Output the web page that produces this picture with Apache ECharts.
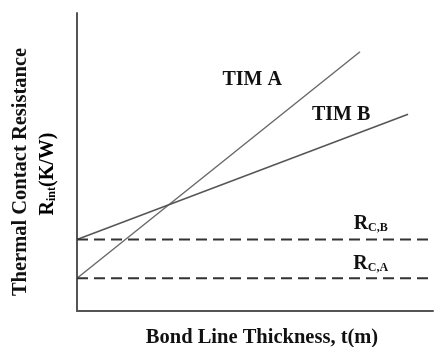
<!DOCTYPE html>
<html><head><meta charset="utf-8">
<script src="https://cdn.jsdelivr.net/npm/echarts@6/dist/echarts.min.js"></script>
<style>html,body{margin:0;padding:0;background:#fff}#c{width:434px;height:347px}</style>
</head><body><div id="c"></div>
<script>
// Data (arbitrary units, 0-100 scale on both axes)
const timA = [[0, 11], [79.5, 87]];
const timB = [[0, 24], [93, 66]];
const rcA = [[0, 11], [100, 11]];
const rcB = [[0, 24], [100, 24]];
const xTitle = 'Bond Line Thickness, t(m)';
const yTitle1 = 'Thermal Contact Resistance';

const font = '"Liberation Serif","Times New Roman",serif';
const chart = echarts.init(document.getElementById('c'), null, {renderer: 'canvas'});
const rich = {
  b: {fontFamily: font, fontWeight: 'bold', fontSize: 20, color: '#111', lineHeight: 24, verticalAlign: 'bottom'},
  s: {fontFamily: font, fontWeight: 'bold', fontSize: 12, color: '#111', lineHeight: 13, verticalAlign: 'bottom'}
};
chart.setOption({
  animation: false,
  grid: {left: 77, right: 1, top: 13, bottom: 36},
  xAxis: {type: 'value', min: 0, max: 100, axisLine: {show: true, lineStyle: {color: '#555', width: 2}},
    axisTick: {show: false}, axisLabel: {show: false}, splitLine: {show: false}},
  yAxis: {type: 'value', min: 0, max: 100, axisLine: {show: true, lineStyle: {color: '#555', width: 2}},
    axisTick: {show: false}, axisLabel: {show: false}, splitLine: {show: false}},
  series: [
    {type: 'line', data: timA, symbol: 'none', lineStyle: {color: '#6b6b6b', width: 1.5},
      markPoint: {symbol: 'circle', symbolSize: 0, data: [{coord: [49.2, 78.2], label: {show: true, formatter: '{b|TIM A}', rich: rich}}]}},
    {type: 'line', data: timB, symbol: 'none', lineStyle: {color: '#555', width: 1.5},
      markPoint: {symbol: 'circle', symbolSize: 0, data: [{coord: [74.2, 66.4], label: {show: true, formatter: '{b|TIM B}', rich: rich}}]}},
    {type: 'line', data: rcB, symbol: 'none', lineStyle: {color: '#333', width: 2, type: [11, 6]},
      markPoint: {symbol: 'circle', symbolSize: 0, data: [{coord: [82.5, 29.9], label: {show: true, formatter: '{b|R}{s|C,B}', rich: rich}}]}},
    {type: 'line', data: rcA, symbol: 'none', lineStyle: {color: '#333', width: 2, type: [11, 6]},
      markPoint: {symbol: 'circle', symbolSize: 0, data: [{coord: [82.5, 16.4], label: {show: true, formatter: '{b|R}{s|C,A}', rich: rich}}]}}
  ],
  graphic: [
    {type: 'text', x: 262, y: 338, style: {text: xTitle, font: 'bold 20.5px ' + font, fill: '#111', align: 'center', verticalAlign: 'middle'}},
    {type: 'text', x: 21, y: 172, rotation: Math.PI / 2, style: {text: yTitle1, font: 'bold 20.5px ' + font, fill: '#111', align: 'center', verticalAlign: 'middle'}},
    {type: 'text', x: 46, y: 174, rotation: Math.PI / 2, style: {text: '{b|R}{s|int}{b|(K/W)}', rich: rich, align: 'center', verticalAlign: 'middle'}}
  ]
});
</script></body></html>
